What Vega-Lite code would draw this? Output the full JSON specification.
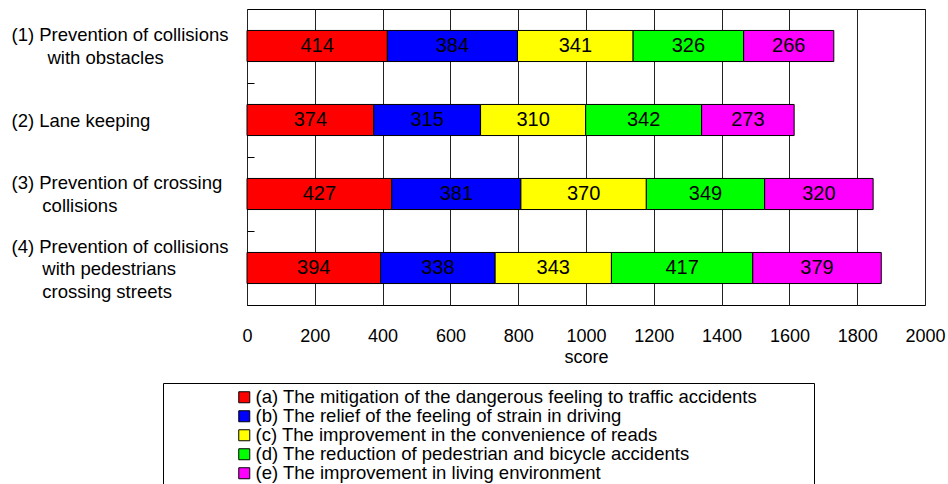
{
  "$schema": "https://vega.github.io/schema/vega-lite/v6.json",
  "width": 678,
  "height": 296,
  "autosize": {"type": "none"},
  "padding": {"left": 247, "top": 9, "right": 23, "bottom": 179},
  "background": "white",
  "config": {
    "font": "Liberation Sans",
    "view": {"stroke": "black", "strokeWidth": 1}
  },
  "data": {
    "values": [
      {"task": "(1) Prevention of collisions|\u200b\u00a0\u00a0\u00a0\u00a0\u00a0\u00a0\u00a0with obstacles", "factor": "(a) The mitigation of the dangerous feeling to traffic accidents", "score": 414},
      {"task": "(1) Prevention of collisions|\u200b\u00a0\u00a0\u00a0\u00a0\u00a0\u00a0\u00a0with obstacles", "factor": "(b) The relief of the feeling of strain in driving", "score": 384},
      {"task": "(1) Prevention of collisions|\u200b\u00a0\u00a0\u00a0\u00a0\u00a0\u00a0\u00a0with obstacles", "factor": "(c) The improvement in the convenience of reads", "score": 341},
      {"task": "(1) Prevention of collisions|\u200b\u00a0\u00a0\u00a0\u00a0\u00a0\u00a0\u00a0with obstacles", "factor": "(d) The reduction of pedestrian and bicycle accidents", "score": 326},
      {"task": "(1) Prevention of collisions|\u200b\u00a0\u00a0\u00a0\u00a0\u00a0\u00a0\u00a0with obstacles", "factor": "(e) The improvement in living environment", "score": 266},
      {"task": "(2) Lane keeping", "factor": "(a) The mitigation of the dangerous feeling to traffic accidents", "score": 374},
      {"task": "(2) Lane keeping", "factor": "(b) The relief of the feeling of strain in driving", "score": 315},
      {"task": "(2) Lane keeping", "factor": "(c) The improvement in the convenience of reads", "score": 310},
      {"task": "(2) Lane keeping", "factor": "(d) The reduction of pedestrian and bicycle accidents", "score": 342},
      {"task": "(2) Lane keeping", "factor": "(e) The improvement in living environment", "score": 273},
      {"task": "(3) Prevention of crossing|\u200b\u00a0\u00a0\u00a0\u00a0\u00a0\u00a0collisions", "factor": "(a) The mitigation of the dangerous feeling to traffic accidents", "score": 427},
      {"task": "(3) Prevention of crossing|\u200b\u00a0\u00a0\u00a0\u00a0\u00a0\u00a0collisions", "factor": "(b) The relief of the feeling of strain in driving", "score": 381},
      {"task": "(3) Prevention of crossing|\u200b\u00a0\u00a0\u00a0\u00a0\u00a0\u00a0collisions", "factor": "(c) The improvement in the convenience of reads", "score": 370},
      {"task": "(3) Prevention of crossing|\u200b\u00a0\u00a0\u00a0\u00a0\u00a0\u00a0collisions", "factor": "(d) The reduction of pedestrian and bicycle accidents", "score": 349},
      {"task": "(3) Prevention of crossing|\u200b\u00a0\u00a0\u00a0\u00a0\u00a0\u00a0collisions", "factor": "(e) The improvement in living environment", "score": 320},
      {"task": "(4) Prevention of collisions|\u200b\u00a0\u00a0\u00a0\u00a0\u00a0\u00a0with pedestrians|\u200b\u00a0\u00a0\u00a0\u00a0\u00a0\u00a0crossing streets", "factor": "(a) The mitigation of the dangerous feeling to traffic accidents", "score": 394},
      {"task": "(4) Prevention of collisions|\u200b\u00a0\u00a0\u00a0\u00a0\u00a0\u00a0with pedestrians|\u200b\u00a0\u00a0\u00a0\u00a0\u00a0\u00a0crossing streets", "factor": "(b) The relief of the feeling of strain in driving", "score": 338},
      {"task": "(4) Prevention of collisions|\u200b\u00a0\u00a0\u00a0\u00a0\u00a0\u00a0with pedestrians|\u200b\u00a0\u00a0\u00a0\u00a0\u00a0\u00a0crossing streets", "factor": "(c) The improvement in the convenience of reads", "score": 343},
      {"task": "(4) Prevention of collisions|\u200b\u00a0\u00a0\u00a0\u00a0\u00a0\u00a0with pedestrians|\u200b\u00a0\u00a0\u00a0\u00a0\u00a0\u00a0crossing streets", "factor": "(d) The reduction of pedestrian and bicycle accidents", "score": 417},
      {"task": "(4) Prevention of collisions|\u200b\u00a0\u00a0\u00a0\u00a0\u00a0\u00a0with pedestrians|\u200b\u00a0\u00a0\u00a0\u00a0\u00a0\u00a0crossing streets", "factor": "(e) The improvement in living environment", "score": 379}
    ]
  },
  "encoding": {
    "y": {
      "field": "task",
      "type": "nominal",
      "sort": null,
      "title": null,
      "scale": {"paddingInner": 0.58, "paddingOuter": 0.29},
      "axis": {
        "domain": false,
        "ticks": true,
        "tickOffset": 37,
        "tickSize": -7,
        "tickColor": "black",
        "labelAlign": "left",
        "labelBaseline": "middle",
        "labelPadding": 243,
        "labelOffset": {
          "condition": [
            {"test": "indexof(datum.value, '(2)') == 0", "value": -37},
            {"test": "indexof(datum.value, '(4)') == 0", "value": -59}
          ],
          "value": -48.5
        },
        "labelFontSize": 18.5,
        "labelColor": "black",
        "labelLineHeight": 22.5,
        "labelLimit": 800,
        "labelExpr": "split(datum.label, '|')"
      }
    },
    "x": {
      "field": "score",
      "type": "quantitative",
      "stack": "zero",
      "scale": {"domain": [0, 2000], "nice": false},
      "axis": {
        "values": [0, 200, 400, 600, 800, 1000, 1200, 1400, 1600, 1800, 2000],
        "format": "d",
        "domain": false,
        "ticks": false,
        "grid": true,
        "gridColor": "#222222",
        "gridWidth": 1,
        "labelFlush": false,
        "labelPadding": 22.5,
        "labelFontSize": 18,
        "labelColor": "black",
        "title": "score",
        "titleFontSize": 18,
        "titleFontWeight": "normal",
        "titleColor": "black",
        "titleBaseline": "alphabetic",
        "titleY": 57
      }
    }
  },
  "layer": [
    {
      "mark": {"type": "bar", "stroke": "black", "strokeWidth": 1},
      "encoding": {
        "color": {
          "field": "factor",
          "type": "nominal",
          "scale": {
            "domain": [
              "(a) The mitigation of the dangerous feeling to traffic accidents",
              "(b) The relief of the feeling of strain in driving",
              "(c) The improvement in the convenience of reads",
              "(d) The reduction of pedestrian and bicycle accidents",
              "(e) The improvement in living environment"
            ],
            "range": ["#ff0000", "#0000ff", "#ffff00", "#00ff00", "#ff00ff"]
          },
          "legend": {
            "orient": "none",
            "legendX": -84,
            "legendY": 374,
            "direction": "vertical",
            "title": "\u200b\u00a0\u00a0\u00a0\u00a0\u00a0\u00a0\u00a0\u00a0\u00a0\u00a0\u00a0\u200b",
            "titleOrient": "left",
            "titleFontSize": 18.5,
            "titlePadding": 10,
            "padding": 5,
            "strokeColor": "black",
            "fillColor": "white",
            "symbolType": "square",
            "symbolSize": 121,
            "symbolStrokeColor": "black",
            "symbolStrokeWidth": 1,
            "symbolOpacity": 1,
            "labelFontSize": 18.5,
            "labelColor": "black",
            "labelLimit": 800,
            "labelOffset": 2,
            "rowPadding": 0,
            "labelExpr": "datum.label + '\u00a0\u00a0\u00a0\u00a0\u00a0\u00a0\u00a0\u00a0\u00a0\u00a0\u200b'"
          }
        },
        "order": {"field": "factor", "type": "ordinal"}
      }
    },
    {
      "mark": {"type": "text", "fontSize": 20, "color": "black", "baseline": "middle", "align": "center"},
      "encoding": {
        "x": {"field": "score", "type": "quantitative", "stack": "zero", "bandPosition": 0.5},
        "detail": {"field": "factor"},
        "order": {"field": "factor", "type": "ordinal"},
        "text": {"field": "score", "type": "quantitative"}
      }
    }
  ]
}
